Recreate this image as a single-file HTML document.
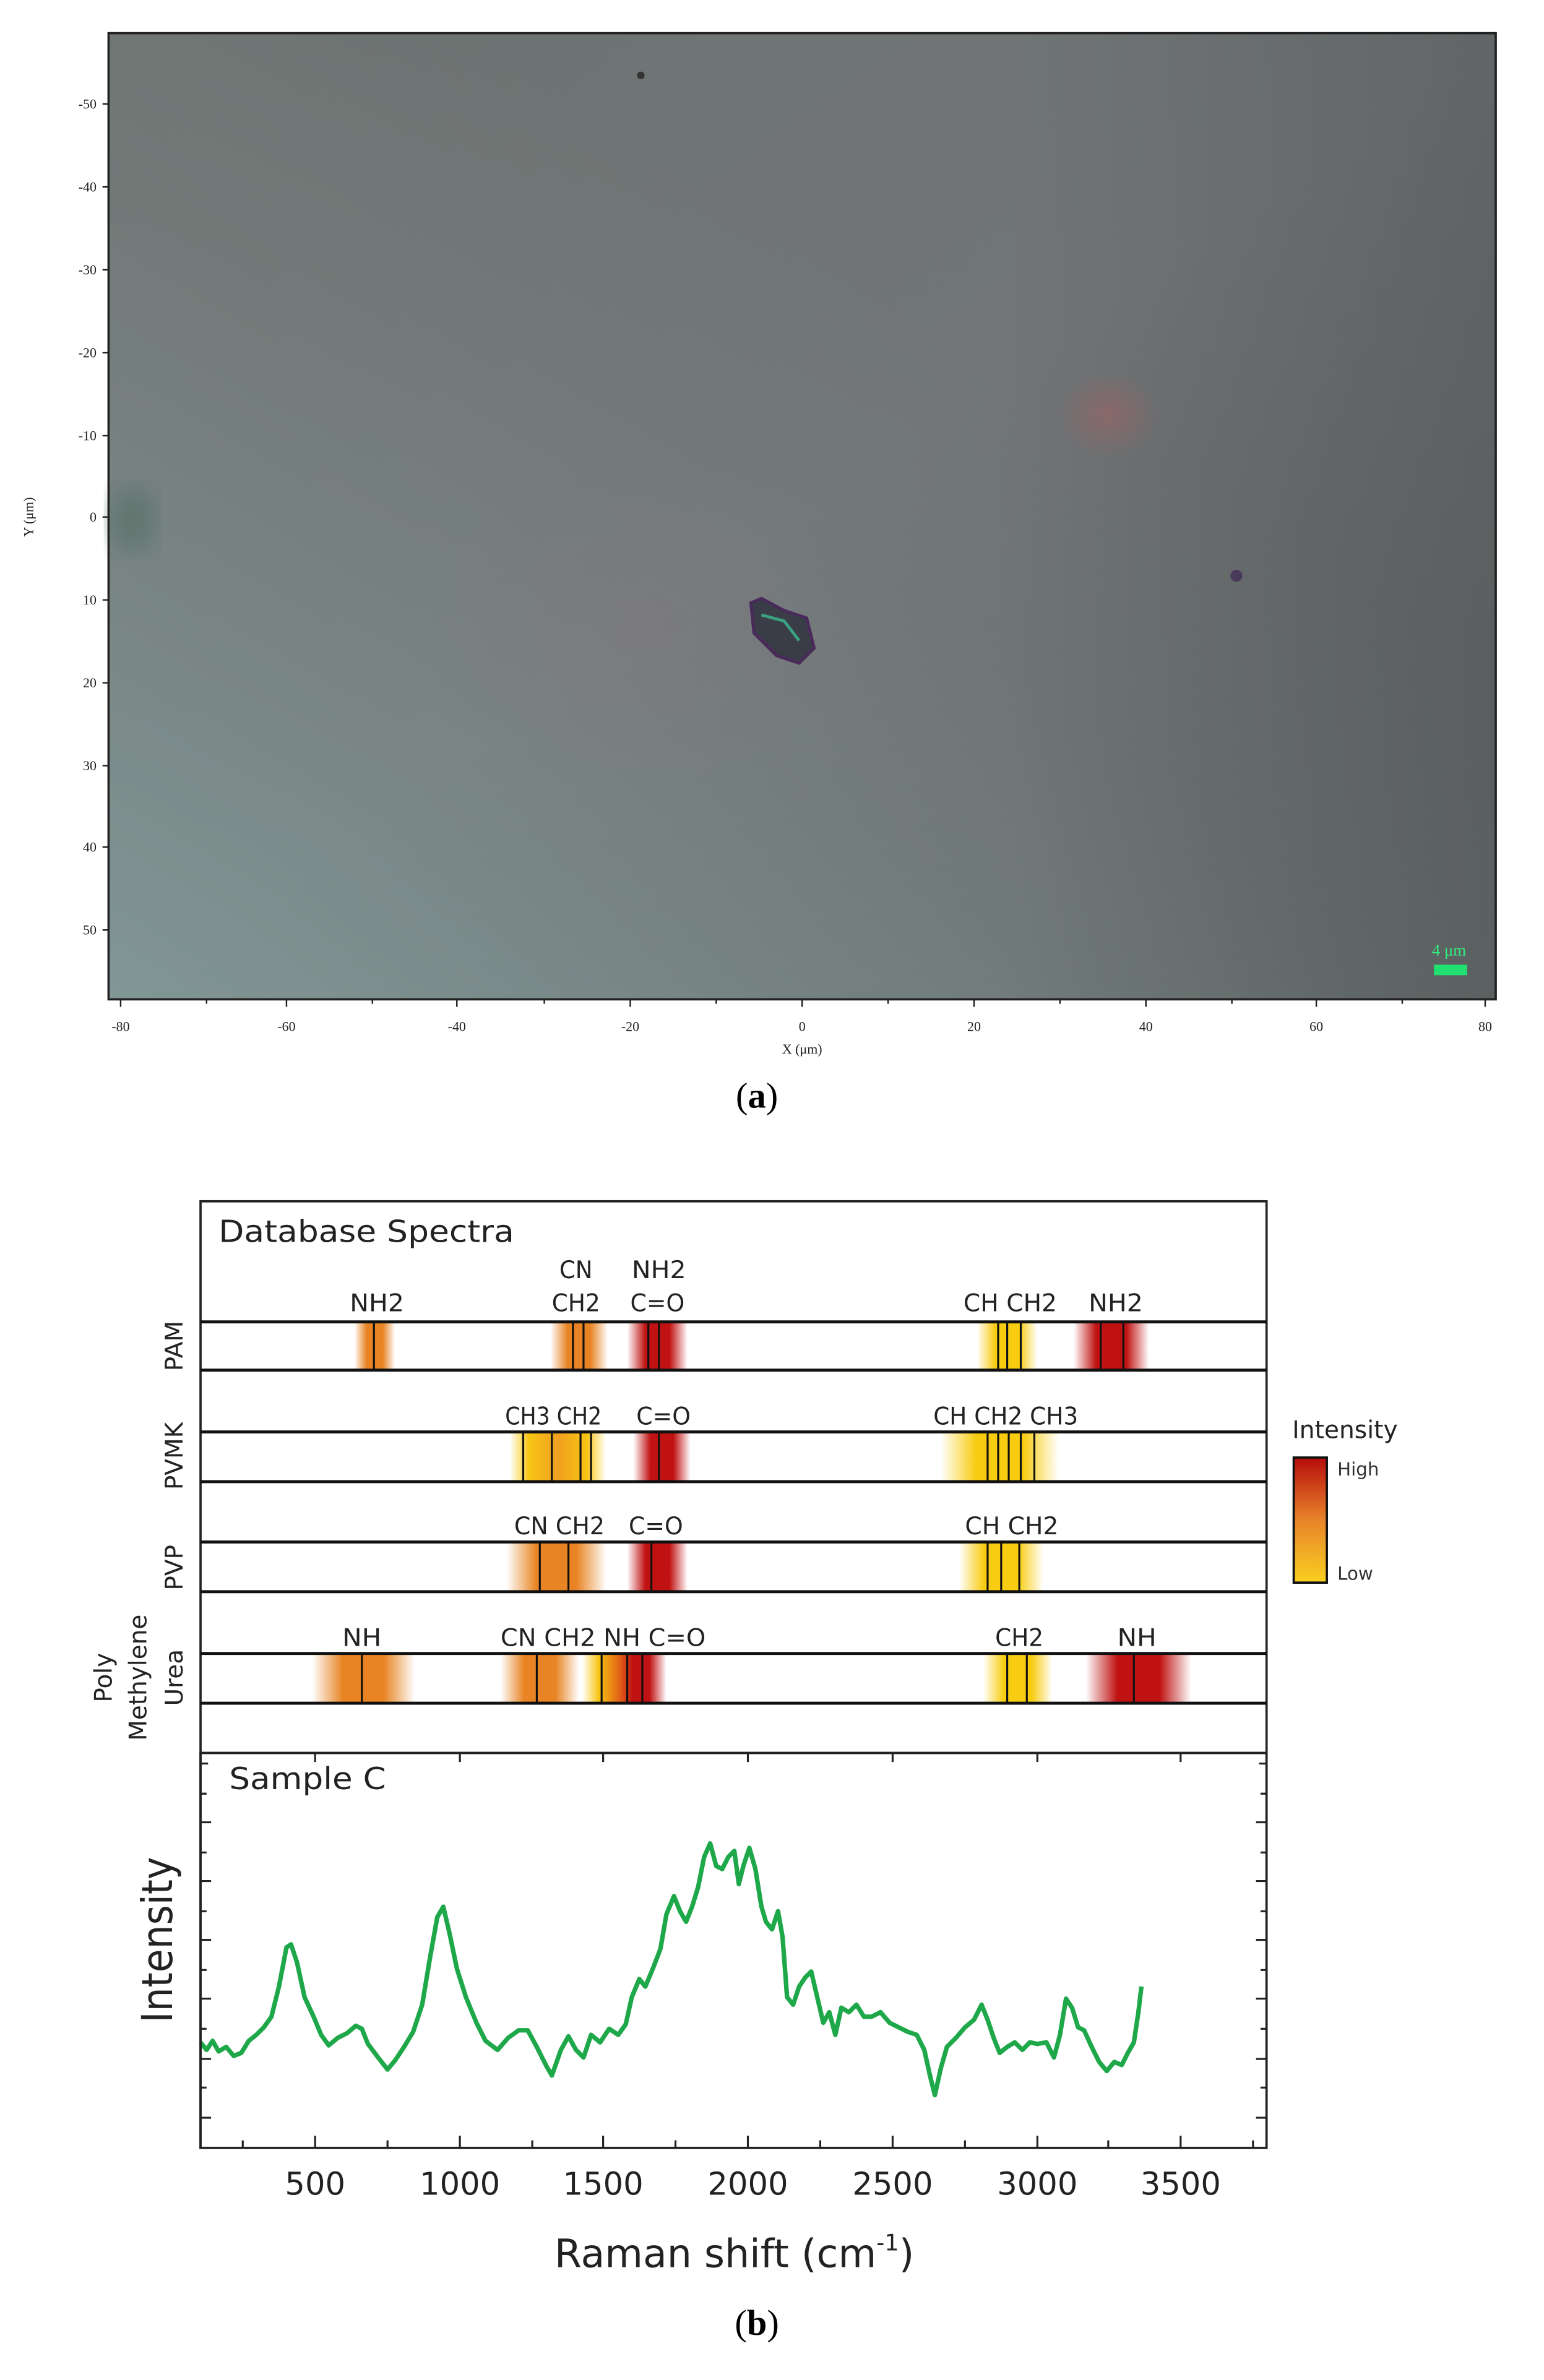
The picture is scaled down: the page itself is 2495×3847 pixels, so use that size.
<!DOCTYPE html>
<html><head><meta charset="utf-8"><style>
html,body{margin:0;padding:0;background:#fff}
svg{display:block}
</style></head><body>
<svg width="2495" height="3847" viewBox="0 0 1024 1579" preserveAspectRatio="none" xmlns="http://www.w3.org/2000/svg">
<defs>
<linearGradient id="bg1" x1="0" y1="0" x2="1" y2="1">
<stop offset="0" stop-color="#6d7371"/><stop offset="0.5" stop-color="#717577"/><stop offset="1" stop-color="#5e6263"/>
</linearGradient>
<linearGradient id="bg2" x1="0" y1="1" x2="0.6" y2="0.3">
<stop offset="0" stop-color="#849c9b" stop-opacity="0.85"/><stop offset="1" stop-color="#7b8583" stop-opacity="0"/>
</linearGradient>
<linearGradient id="bg3" x1="0" y1="0" x2="1" y2="0">
<stop offset="0.65" stop-color="#4a4e4f" stop-opacity="0"/><stop offset="1" stop-color="#4a4e4f" stop-opacity="0.4"/>
</linearGradient>
<radialGradient id="redb"><stop offset="0" stop-color="#b06060" stop-opacity="0.45"/><stop offset="1" stop-color="#b06060" stop-opacity="0"/></radialGradient>
<radialGradient id="pinkb"><stop offset="0" stop-color="#8a7080" stop-opacity="0.25"/><stop offset="1" stop-color="#8a7080" stop-opacity="0"/></radialGradient>
<filter id="blur"><feGaussianBlur stdDeviation="8"/></filter>
<linearGradient id="go" x1="0" x2="1"><stop offset="0" stop-color="#e88424" stop-opacity="0"/><stop offset="0.3" stop-color="#e88424"/><stop offset="0.7" stop-color="#e88424"/><stop offset="1" stop-color="#e88424" stop-opacity="0"/></linearGradient>
<linearGradient id="gr" x1="0" x2="1"><stop offset="0" stop-color="#c01212" stop-opacity="0"/><stop offset="0.3" stop-color="#c01212"/><stop offset="0.7" stop-color="#c01212"/><stop offset="1" stop-color="#c01212" stop-opacity="0"/></linearGradient>
<linearGradient id="gy" x1="0" x2="1"><stop offset="0" stop-color="#f8cc10" stop-opacity="0"/><stop offset="0.3" stop-color="#f8cc10"/><stop offset="0.7" stop-color="#f8cc10"/><stop offset="1" stop-color="#f8cc10" stop-opacity="0"/></linearGradient>
<linearGradient id="gyo" x1="0" x2="1"><stop offset="0" stop-color="#f8cc10" stop-opacity="0"/><stop offset="0.2" stop-color="#f8c414"/><stop offset="0.5" stop-color="#f0a020"/><stop offset="0.8" stop-color="#f8c414"/><stop offset="1" stop-color="#f8cc10" stop-opacity="0"/></linearGradient>
<linearGradient id="gyr" x1="0" x2="1"><stop offset="0" stop-color="#f8cc10" stop-opacity="0"/><stop offset="0.2" stop-color="#f8c414"/><stop offset="0.45" stop-color="#e06018"/><stop offset="0.6" stop-color="#c01212"/><stop offset="0.8" stop-color="#c01212"/><stop offset="1" stop-color="#c01212" stop-opacity="0"/></linearGradient>
<linearGradient id="cbar" x1="0" y1="0" x2="0" y2="1"><stop offset="0" stop-color="#b80c0c"/><stop offset="0.5" stop-color="#e8842a"/><stop offset="1" stop-color="#f8d020"/></linearGradient>
</defs>
<rect width="1024" height="1579" fill="#fff"/>
<!-- (a) photo -->
<rect x="72" y="22" width="920" height="641" fill="url(#bg1)"/>
<rect x="72" y="22" width="920" height="641" fill="url(#bg2)"/>
<rect x="72" y="22" width="920" height="641" fill="url(#bg3)"/>
<ellipse cx="735" cy="275" rx="35" ry="30" fill="url(#redb)"/>
<ellipse cx="420" cy="420" rx="140" ry="110" fill="url(#pinkb)"/>
<ellipse cx="88" cy="345" rx="16" ry="22" fill="#4e6a60" opacity="0.5" filter="url(#blur)"/>
<path d="M498,400 L505,397 L520,405 L535,410 L540,430 L530,440 L515,435 L500,420 Z" fill="#3a3c48" stroke="#4a2a5a" stroke-width="2"/>
<path d="M505,408 L520,412 L530,425" stroke="#3aa080" stroke-width="2" fill="none"/>
<circle cx="820" cy="382" r="4" fill="#4a3a5a"/>
<circle cx="425" cy="50" r="2.5" fill="#333"/>
<rect x="72" y="22" width="920" height="641" fill="none" stroke="#222" stroke-width="1.5"/>
<text x="961" y="634" font-family="Liberation Serif,serif" font-size="11" fill="#30f080" text-anchor="middle">4 μm</text>
<rect x="951" y="640" width="22" height="7" fill="#20e070"/>
<g font-family="Liberation Serif,serif" font-size="9" fill="#222" text-anchor="middle">
<text x="80" y="684">-80</text><text x="190" y="684">-60</text><text x="303" y="684">-40</text><text x="418" y="684">-20</text><text x="532" y="684">0</text><text x="646" y="684">20</text><text x="760" y="684">40</text><text x="873" y="684">60</text><text x="985" y="684">80</text>
<text x="532" y="699">X (μm)</text>
</g>
<g stroke="#222" stroke-width="1">
<path d="M80,663v5M137,663v3M190,663v5M247,663v3M303,663v5M361,663v3M418,663v5M475,663v3M532,663v5M589,663v3M646,663v5M703,663v3M760,663v5M817,663v3M873,663v5M930,663v3M985,663v5"/>
<path d="M72,69h-4M72,124h-4M72,179h-4M72,234h-4M72,289h-4M72,343h-4M72,398h-4M72,453h-4M72,508h-4M72,562h-4M72,617h-4"/>
</g>
<g font-family="Liberation Serif,serif" font-size="9" fill="#222" text-anchor="end">
<text x="64" y="72">-50</text><text x="64" y="127">-40</text><text x="64" y="182">-30</text><text x="64" y="237">-20</text><text x="64" y="292">-10</text><text x="64" y="346">0</text><text x="64" y="401">10</text><text x="64" y="456">20</text><text x="64" y="511">30</text><text x="64" y="565">40</text><text x="64" y="620">50</text>
</g>
<text transform="translate(22,343) rotate(-90)" font-family="Liberation Serif,serif" font-size="9" text-anchor="middle" fill="#222">Y (μm)</text>
<text x="502" y="735" font-family="Liberation Serif,serif" font-size="24" text-anchor="middle">(<tspan font-weight="bold">a</tspan>)</text>

<!-- (b) -->
<rect x="133" y="797" width="707" height="628" fill="#fff" stroke="#222" stroke-width="1.5"/>
<line x1="133" y1="1163" x2="840" y2="1163" stroke="#222" stroke-width="1.5"/>
<text x="145" y="824" font-family="DejaVu Sans,sans-serif" font-size="20" fill="#222" textLength="196" lengthAdjust="spacingAndGlyphs">Database Spectra</text>
<g>
<rect x="235" y="877" width="27" height="32" fill="url(#go)"/>
<rect x="365" y="877" width="38" height="32" fill="url(#go)"/>
<rect x="416" y="877" width="40" height="32" fill="url(#gr)"/>
<rect x="648" y="877" width="40" height="32" fill="url(#gy)"/>
<rect x="712" y="877" width="50" height="32" fill="url(#gr)"/>
<rect x="338" y="950" width="64" height="33" fill="url(#gyo)"/>
<rect x="420" y="950" width="38" height="33" fill="url(#gr)"/>
<rect x="624" y="950" width="78" height="33" fill="url(#gy)"/>
<rect x="336" y="1023" width="66" height="33" fill="url(#go)"/>
<rect x="416" y="1023" width="40" height="33" fill="url(#gr)"/>
<rect x="636" y="1023" width="56" height="33" fill="url(#gy)"/>
<rect x="207" y="1097" width="68" height="33" fill="url(#go)"/>
<rect x="332" y="1097" width="52" height="33" fill="url(#go)"/>
<rect x="386" y="1097" width="56" height="33" fill="url(#gyr)"/>
<rect x="652" y="1097" width="46" height="33" fill="url(#gy)"/>
<rect x="720" y="1097" width="70" height="33" fill="url(#gr)"/>
</g>
<g stroke="#111" stroke-width="1.3">
<path d="M248,877v32M380,877v32M387,877v32M430,877v32M437,877v32M662,877v32M668,877v32M677,877v32M730,877v32M745,877v32"/>
<path d="M347,950v33M366,950v33M385,950v33M392,950v33M437,950v33M655,950v33M662,950v33M669,950v33M677,950v33M686,950v33"/>
<path d="M358,1023v33M377,1023v33M432,1023v33M655,1023v33M664,1023v33M676,1023v33"/>
<path d="M240,1097v33M356,1097v33M399,1097v33M416,1097v33M426,1097v33M668,1097v33M681,1097v33M752,1097v33"/>
</g>
<g stroke="#111" stroke-width="2">
<path d="M133,877h707M133,909h707M133,950h707M133,983h707M133,1023h707M133,1056h707M133,1097h707M133,1130h707"/>
</g>
<g font-family="DejaVu Sans,sans-serif" font-size="16" fill="#222" text-anchor="middle">
<text x="250" y="870" textLength="36" lengthAdjust="spacingAndGlyphs">NH2</text>
<text x="382" y="848" textLength="22" lengthAdjust="spacingAndGlyphs">CN</text>
<text x="382" y="870" textLength="32" lengthAdjust="spacingAndGlyphs">CH2</text>
<text x="437" y="848" textLength="36" lengthAdjust="spacingAndGlyphs">NH2</text>
<text x="436" y="870" textLength="36" lengthAdjust="spacingAndGlyphs">C=O</text>
<text x="670" y="870" textLength="62" lengthAdjust="spacingAndGlyphs">CH CH2</text>
<text x="740" y="870" textLength="36" lengthAdjust="spacingAndGlyphs">NH2</text>
<text x="367" y="945" textLength="64" lengthAdjust="spacingAndGlyphs">CH3 CH2</text>
<text x="440" y="945" textLength="36" lengthAdjust="spacingAndGlyphs">C=O</text>
<text x="667" y="945" textLength="96" lengthAdjust="spacingAndGlyphs">CH CH2 CH3</text>
<text x="371" y="1018" textLength="60" lengthAdjust="spacingAndGlyphs">CN CH2</text>
<text x="435" y="1018" textLength="36" lengthAdjust="spacingAndGlyphs">C=O</text>
<text x="671" y="1018" textLength="62" lengthAdjust="spacingAndGlyphs">CH CH2</text>
<text x="240" y="1092" textLength="26" lengthAdjust="spacingAndGlyphs">NH</text>
<text x="400" y="1092" textLength="136" lengthAdjust="spacingAndGlyphs">CN CH2 NH C=O</text>
<text x="676" y="1092" textLength="32" lengthAdjust="spacingAndGlyphs">CH2</text>
<text x="754" y="1092" textLength="26" lengthAdjust="spacingAndGlyphs">NH</text>
</g>
<g font-family="DejaVu Sans,sans-serif" font-size="16" fill="#222" text-anchor="middle">
<text transform="translate(121,893) rotate(-90)">PAM</text>
<text transform="translate(121,966) rotate(-90)">PVMK</text>
<text transform="translate(121,1040) rotate(-90)">PVP</text>
<text transform="translate(74,1113) rotate(-90)">Poly</text>
<text transform="translate(97,1113) rotate(-90)">Methylene</text>
<text transform="translate(121,1113) rotate(-90)">Urea</text>
</g>
<text x="857" y="954" font-family="DejaVu Sans,sans-serif" font-size="16" fill="#222" textLength="70" lengthAdjust="spacingAndGlyphs">Intensity</text>
<rect x="858" y="967" width="22" height="83" fill="url(#cbar)" stroke="#111" stroke-width="1.5"/>
<text x="887" y="979" font-family="DejaVu Sans,sans-serif" font-size="12" fill="#333">High</text>
<text x="887" y="1048" font-family="DejaVu Sans,sans-serif" font-size="12" fill="#333">Low</text>
<text x="152" y="1187" font-family="DejaVu Sans,sans-serif" font-size="20" fill="#222" textLength="104" lengthAdjust="spacingAndGlyphs">Sample C</text>
<g stroke="#222" stroke-width="1.3">
<path d="M133,1170h5M133,1190h4M133,1209h7M133,1229h4M133,1248h7M133,1268h4M133,1287h7M133,1307h4M133,1326h7M133,1346h4M133,1366h7M133,1385h4M133,1405h7"/>
<path d="M840,1170h-5M840,1190h-4M840,1209h-7M840,1229h-4M840,1248h-7M840,1268h-4M840,1287h-7M840,1307h-4M840,1326h-7M840,1346h-4M840,1366h-7M840,1385h-4M840,1405h-7"/>
<path d="M161,1425v-5M209,1425v-8M257,1425v-5M305,1425v-8M353,1425v-5M400,1425v-8M448,1425v-5M496,1425v-8M544,1425v-5M592,1425v-8M640,1425v-5M688,1425v-8M735,1425v-5M783,1425v-8M831,1425v-5"/>
<path d="M209,1163v6M305,1163v6M400,1163v6M496,1163v6M592,1163v6M688,1163v6M783,1163v6"/>
</g>
<polyline fill="none" stroke="#1ea84a" stroke-width="3" stroke-linejoin="round" points="133,1355 137,1360 141,1354 145,1361 150,1358 155,1364 160,1362 165,1354 170,1350 175,1345 180,1338 185,1318 190,1292 193,1290 197,1302 202,1325 208,1338 213,1350 218,1357 224,1352 230,1349 236,1344 240,1346 244,1356 250,1364 257,1373 262,1367 268,1358 274,1348 280,1330 285,1300 290,1272 294,1265 298,1282 303,1306 309,1325 316,1342 322,1354 330,1360 337,1352 344,1347 350,1347 356,1358 362,1370 366,1377 372,1360 377,1351 382,1360 387,1365 392,1350 398,1355 404,1346 410,1350 415,1343 419,1325 424,1313 428,1318 433,1306 438,1293 442,1270 447,1258 451,1268 455,1275 459,1265 463,1252 467,1232 471,1223 475,1238 479,1240 483,1232 487,1228 490,1250 493,1238 497,1226 501,1240 505,1265 508,1275 512,1280 516,1268 519,1285 522,1325 526,1330 530,1318 534,1312 538,1308 542,1325 546,1342 550,1335 554,1350 558,1332 563,1335 568,1330 573,1338 578,1338 584,1335 590,1342 596,1345 602,1348 608,1350 613,1360 617,1378 620,1390 624,1372 628,1358 634,1352 640,1345 646,1340 651,1330 655,1340 659,1352 663,1362 668,1358 673,1355 678,1360 683,1355 688,1356 694,1355 699,1365 703,1350 707,1326 711,1332 715,1345 719,1347 724,1358 729,1368 734,1374 739,1368 744,1370 748,1362 752,1355 755,1335 757,1318"/>
<rect x="133" y="1163" width="707" height="262" fill="none" stroke="#222" stroke-width="1.5"/>
<text transform="translate(114,1287) rotate(-90)" font-family="DejaVu Sans,sans-serif" font-size="28" fill="#222" text-anchor="middle" textLength="110" lengthAdjust="spacingAndGlyphs">Intensity</text>
<g font-family="DejaVu Sans,sans-serif" font-size="21" fill="#222" text-anchor="middle">
<text x="209" y="1456">500</text><text x="305" y="1456">1000</text><text x="400" y="1456">1500</text><text x="496" y="1456">2000</text><text x="592" y="1456">2500</text><text x="688" y="1456">3000</text><text x="783" y="1456">3500</text>
</g>
<text x="487" y="1504" font-family="DejaVu Sans,sans-serif" font-size="26" fill="#222" text-anchor="middle">Raman shift (cm<tspan font-size="15" dy="-11">-1</tspan><tspan dy="11">)</tspan></text>
<text x="502" y="1549" font-family="Liberation Serif,serif" font-size="24" text-anchor="middle">(<tspan font-weight="bold">b</tspan>)</text>
</svg>
</body></html>
